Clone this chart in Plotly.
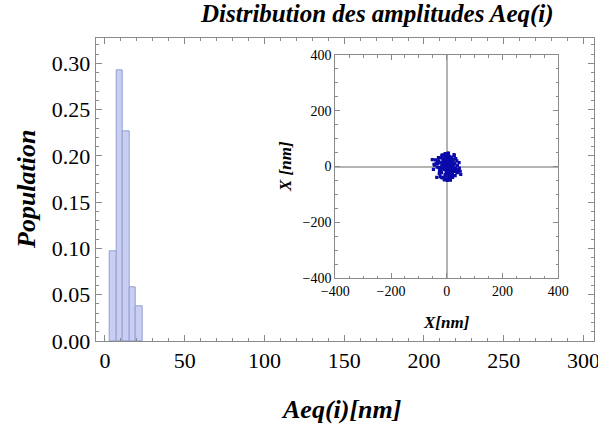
import plotly.graph_objects as go

# Histogram data (bin centers in nm, population fractions)
bin_centers = [5.15, 9.25, 13.35, 17.45, 21.55]
bin_width = 4.1
population = [0.097, 0.292, 0.226, 0.058, 0.037]

# Inset scatter data (nm)
inset_x = [2, -5, 8, -12, 15, -3, 6, -18, 11, 0, -9, 21, -7, 4, -15, 26, 1, -23, 13, -1,
           17, -11, 5, -28, 19, -8, 9, -17, 24, -2, 7, -21, 14, -6, 31, -13, 3, 10, -32, 18,
           -4, 22, -14, 6, -25, 12, -1, 34, -19, 3, 16, -10, 28, -26, 8, -16, 20, -3, 38, -30,
           9, -20, 25, -8, 14, -35, 4, 29, -12, 19, -22, 1, 35, -5, 11, -38, 23, -15, 6, 42,
           -41, 17, -27, 32, -9, 45, -18, 2, 39, -33, 27, -44, 12, -24, 48, -6, 21, -48, 30, -14,
           44, -52, 5, 50, -36, 13, -46, 26, 0, -18, 36, -30, 7, -3, 10, -7, 1, 15, -12, 5,
           -2, 8, -10, 3, 13, -6, 0, 17, -14, 6, -1, 10, -8, 4, 12, -4, 2, -16, 9, -11]
inset_y = [4, -9, -3, 7, 12, -15, 18, 2, -8, -20, 10, -5, 22, -13, -2, 6, 25, -7, 15, -26,
           1, 16, -18, -4, -14, 27, -24, 13, 8, 30, -31, -16, 20, -28, -6, 3, -11, 28, 9, -21,
           -34, 19, 24, -10, 15, -30, 33, -12, -22, 14, 26, -38, -18, -14, 36, 1, -27, 39, 3, 20,
           -37, 31, -9, 41, -33, -2, -42, 12, 37, -29, -23, 44, -20, -45, 35, 11, 25, -40, 47, -12,
           24, 33, -25, 28, -48, -6, 40, -50, -22, 19, 38, 5, -44, -36, -17, 46, -39, -10, -33, 42,
           14, 25, 48, -28, -39, -49, 8, 43, 0, -40, 20, 32, -6, 9, -2, 3, -12, -9, 0, 11,
           -5, 6, -10, 17, -1, 21, -17, 4, 12, -23, 8, -15, -3, 1, 14, 11, -22, 9, -17, -8]

W, H = 598, 428
SERIF = "Liberation Serif"
FRAME = "#8a8a8a"

fig = go.Figure()
fig.add_trace(go.Bar(
    x=bin_centers, y=population, width=bin_width,
    marker=dict(color="rgb(200,207,243)", line=dict(color="rgb(150,158,208)", width=1)),
    xaxis="x", yaxis="y", showlegend=False))
fig.add_trace(go.Scatter(
    x=inset_x, y=inset_y, mode="markers",
    marker=dict(symbol="square", size=3.2, color="rgb(10,10,170)"),
    xaxis="x2", yaxis="y2", showlegend=False))

def px_x(p):
    return p / W

def px_y(p):
    return (H - p) / H

axis_common = dict(showline=True, linecolor=FRAME, linewidth=1, mirror="allticks",
                   ticks="inside", tickcolor=FRAME, showgrid=False, automargin=False,
                   ticklabeloverflow="allow")

fig.update_layout(
    width=W, height=H,
    margin=dict(l=0, r=0, t=0, b=0),
    paper_bgcolor="white", plot_bgcolor="white",
    bargap=0,
    xaxis=dict(domain=[px_x(95.7), px_x(594)], range=[-5.8, 306.6], anchor="y",
               tick0=0, dtick=50, ticklen=6, zeroline=False,
               minor=dict(ticks="inside", ticklen=3, dtick=10, tickcolor=FRAME),
               tickfont=dict(family=SERIF, size=22, color="black"), **axis_common),
    yaxis=dict(domain=[px_y(341), px_y(38.3)], range=[0, 0.327], anchor="x",
               tick0=0, dtick=0.05, tickformat=".2f", ticklen=6, zeroline=False,
               minor=dict(ticks="inside", ticklen=3, dtick=0.01, tickcolor=FRAME),
               tickfont=dict(family=SERIF, size=22, color="black"), **axis_common),
    xaxis2=dict(domain=[px_x(335.3), px_x(558.3)], range=[-400, 400], anchor="y2",
                tick0=0, dtick=200, ticklen=5,
                zeroline=True, zerolinecolor="#b4b4b4", zerolinewidth=1.5,
                minor=dict(ticks="inside", ticklen=2.5, dtick=50, tickcolor=FRAME),
                tickfont=dict(family=SERIF, size=14, color="black"), **axis_common),
    yaxis2=dict(domain=[px_y(278), px_y(55)], range=[-400, 400], anchor="x2",
                tick0=0, dtick=200, ticklen=5,
                zeroline=True, zerolinecolor="#b4b4b4", zerolinewidth=1.5,
                minor=dict(ticks="inside", ticklen=2.5, dtick=50, tickcolor=FRAME),
                tickfont=dict(family=SERIF, size=14, color="black"), **axis_common),
)

def label(text, x, y, size, angle=0):
    fig.add_annotation(text="<b><i>%s</i></b>" % text, x=px_x(x), y=px_y(y),
                       xref="paper", yref="paper", xanchor="center", yanchor="middle",
                       showarrow=False, textangle=angle,
                       font=dict(family=SERIF, size=size, color="black"))

label("Distribution des amplitudes Aeq(i)", 377, 14, 25)
label("Population", 26, 190, 26, -90)
label("Aeq(i)[nm]", 341, 409, 26)
label("X[nm]", 447, 322, 17)
label("X [nm]", 285, 167, 17, -90)

fig.write_html("out.html", config={"displayModeBar": False},
               post_script="document.body.style.margin='0px';document.body.style.overflow='hidden';")
